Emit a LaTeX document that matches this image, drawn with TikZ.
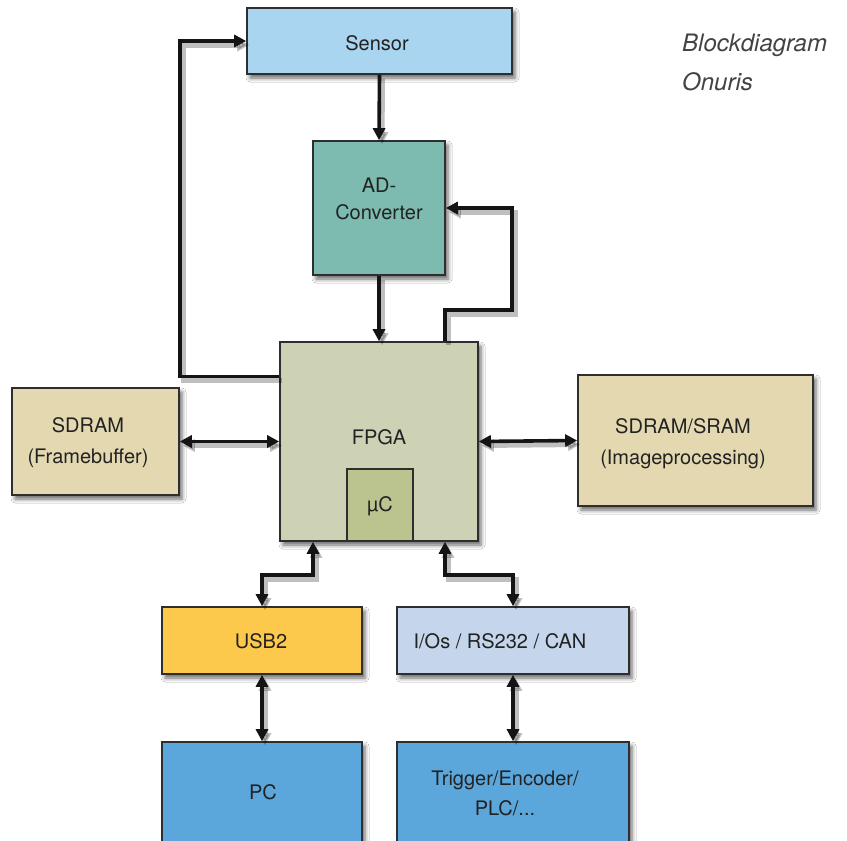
\documentclass[tikz,border=0pt]{standalone}
\usepackage{fontspec}
\setmainfont{TeX Gyre Heros}
\usetikzlibrary{arrows.meta,shadows.blur,calc}
\definecolor{boxline}{HTML}{2E2E2E}
\definecolor{txt}{HTML}{222222}
\definecolor{csensor}{HTML}{A9D5F0}
\definecolor{cad}{HTML}{7DBAAF}
\definecolor{cfpga}{HTML}{CDD2B5}
\definecolor{cuc}{HTML}{BBC48F}
\definecolor{cmem}{HTML}{E4D8B1}
\definecolor{cusb}{HTML}{FDC94C}
\definecolor{cio}{HTML}{C5D6EC}
\definecolor{cpc}{HTML}{5BA6DA}
\begin{document}
\begin{tikzpicture}[x=1pt,y=-1pt,
  plainbox/.style={draw=boxline, line width=1.6pt, inner sep=0pt},
  box/.style={plainbox,
    blur shadow={shadow xshift=3pt,shadow yshift=-4pt,shadow blur radius=4pt,shadow opacity=60}},
  lbl/.style={text=txt, font=\fontsize{20}{31}\selectfont, align=center, inner sep=0pt},
  tip/.tip={Triangle[length=12pt,width=12pt]},
  shad/.style={preaction={draw=black, opacity=0.25, line width=5pt, transform canvas={shift={(3pt,-4pt)}}}},
  conn/.style={line width=3.6pt, draw=black!92, -tip, shad},
  conn2/.style={line width=3.6pt, draw=black!92, tip-tip, shad}]
\useasboundingbox (0,0) rectangle (847,841);
\clip (0,0) rectangle (847,841);
\fill[white] (0,0) rectangle (847,841);

% boxes
\node[box, fill=csensor, minimum width=265pt, minimum height=66pt] (sensor) at (379.5,41) {};
\node[box, fill=cad, minimum width=132pt, minimum height=134pt] (ad) at (379,208) {};
\node[box, fill=cfpga, minimum width=198pt, minimum height=199pt] (fpga) at (379,441.5) {};
\node[plainbox, fill=cuc, minimum width=66pt, minimum height=72pt] (uc) at (380,505) {};
\node[box, fill=cmem, minimum width=167pt, minimum height=107pt] (sdram) at (95.5,441.5) {};
\node[box, fill=cmem, minimum width=235pt, minimum height=131pt] (sram) at (695.5,440.5) {};
\node[box, fill=cusb, minimum width=200pt, minimum height=67pt] (usb) at (262,640.5) {};
\node[box, fill=cio, minimum width=232pt, minimum height=67pt] (io) at (513,640.5) {};
\node[box, fill=cpc, minimum width=200pt, minimum height=120pt] (pc) at (262,802) {};
\node[box, fill=cpc, minimum width=232pt, minimum height=120pt] (trig) at (513,802) {};

% labels
\node[lbl] (tsensor) at (377,43) {Sensor};
\node[lbl, font=\fontsize{20}{27}\selectfont] (tad) at (379,199) {AD-\\Converter};
\node[lbl] (tfpga) at (379,437) {FPGA};
\node[lbl] (tuc) at (380,506) {µC};
\node[lbl] (tsdram) at (88,443) {SDRAM\\(Framebuffer)};
\node[lbl] (tsram) at (683,444) {SDRAM/SRAM\\(Imageprocessing)};
\node[lbl] (tusb) at (261,641) {USB2};
\node[lbl] (tio) at (500,641) {I/Os / RS232 / CAN};
\node[lbl] (tpc) at (263,792) {PC};
\node[lbl, font=\fontsize{20}{30}\selectfont] (ttrig) at (505,793) {Trigger/Encoder/\\PLC/...};

\node[anchor=west, text=txt!85, font=\fontsize{24}{24}\selectfont\itshape, inner sep=0pt] (title1) at (682,45) {Blockdiagram};
\node[anchor=west, text=txt!85, font=\fontsize{24}{24}\selectfont\itshape, inner sep=0pt] (title2) at (682,82) {Onuris};

% connectors
\coordinate (lx) at (180,0);
\coordinate (rx) at (512,310);
\coordinate (by) at (0,575);
\draw[conn] (sensor.south) -- (ad.north);
\draw[conn] (ad.south) -- (fpga.north);
\draw[conn] ([xshift=66pt]fpga.north) |- (rx) |- (ad.east);
\draw[conn] ([yshift=65pt]fpga.west) -| (lx |- sensor.west) -- (sensor.west);
\draw[conn2] (sdram.east) -- (fpga.west);
\draw[conn2] (fpga.east) -- (sram.west);
\draw[conn2] ([xshift=-66pt]fpga.south) |- (usb.north |- by) -- (usb.north);
\draw[conn2] ([xshift=66pt]fpga.south) |- (io.north |- by) -- (io.north);
\draw[conn2] (usb.south) -- (pc.north);
\draw[conn2] (io.south) -- (trig.north);
\end{tikzpicture}
\end{document}
